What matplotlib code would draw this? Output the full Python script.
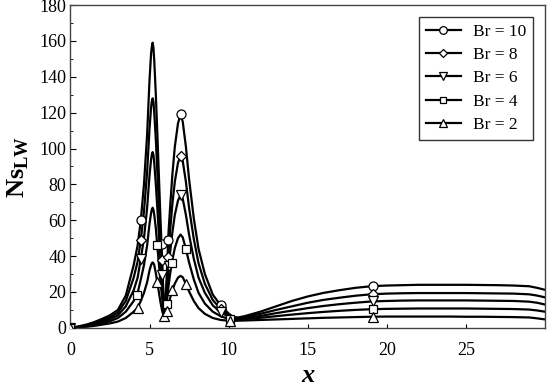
import numpy as np
import matplotlib
matplotlib.use('Agg')
import matplotlib.pyplot as plt

plt.rcParams['font.family'] = 'Liberation Serif'
plt.rcParams['mathtext.fontset'] = 'custom'
plt.rcParams['mathtext.rm'] = 'Liberation Serif'
plt.rcParams['mathtext.bf'] = 'Liberation Serif:bold'

# shared x grid
x = [0, 0.5, 1, 1.5, 2, 2.5, 3, 3.5, 4, 4.25, 4.45, 4.65, 4.85, 5.0, 5.1, 5.15, 5.2, 5.25, 5.3,
     5.4, 5.5, 5.6, 5.7, 5.8, 5.88, 5.95, 6.02, 6.1, 6.2, 6.3, 6.45, 6.6, 6.8, 6.96,
     7.1, 7.3, 7.5, 7.8, 8.1, 8.5, 9.0, 9.5, 10.0, 10.3, 10.6, 11, 12, 13, 14, 15,
     16, 17, 18, 19, 20, 21, 22, 23, 24, 25, 26, 27, 28, 29, 29.5, 30]

br10 = [0, 0.8, 1.8, 3.2, 5, 7, 10, 18, 35, 46, 60, 80, 108, 138, 153, 157, 159, 156, 149,
        130, 107, 83, 59, 38, 19, 7, 16, 31, 53, 67, 86, 101, 114, 119,
        115, 101, 83, 61, 44, 30, 18.5, 12.5, 8, 6, 5.8, 6.5, 9, 12, 15, 17.5,
        19.5, 21, 22.3, 23.2, 23.6, 23.8, 24, 24, 24, 24, 23.9, 23.8, 23.6, 23.2, 22.3, 21.2]
br8 = [0, 0.6, 1.5, 2.7, 4.2, 5.8, 8.5, 15, 28, 37, 49, 65, 87, 111, 123, 126.5, 128, 126, 120,
       105, 86, 67, 48, 31, 16, 6.5, 13.5, 25.5, 43, 54, 69.5, 81.5, 92, 96,
       93, 81.5, 67, 49.5, 36, 24.5, 15.5, 10.5, 7, 5.6, 5.4, 6, 7.8, 10, 12, 14,
       15.6, 16.8, 17.9, 18.7, 19.1, 19.3, 19.4, 19.4, 19.4, 19.4, 19.3, 19.2, 19.1, 18.7, 18, 17]
br6 = [0, 0.5, 1.2, 2.2, 3.4, 4.8, 7, 12, 21, 28, 38.5, 50, 67, 85, 94, 96.8, 98, 96.3, 92,
       80, 66, 51, 37, 24, 12.5, 6.2, 11, 20, 32.5, 42, 53.5, 63, 71, 74,
       72, 63, 52, 38.5, 28, 19.5, 12.5, 8.8, 6.2, 5.2, 5.0, 5.4, 6.6, 8.2, 9.6, 11,
       12.2, 13.2, 14, 14.7, 15, 15.2, 15.3, 15.3, 15.3, 15.3, 15.2, 15.1, 15, 14.6, 14, 13]
br4 = [0, 0.4, 0.9, 1.6, 2.6, 3.7, 5.5, 9, 15, 19.5, 27, 35, 46, 58, 64, 66.2, 67, 65.8, 63,
       55.5, 45, 35, 25, 16.5, 9.5, 6, 8.5, 15, 23, 30, 38, 44.5, 50, 52,
       50.5, 44, 36.5, 27, 19.5, 13.5, 9, 6.5, 5, 4.6, 4.6, 4.9, 5.6, 6.5, 7.4, 8.2,
       8.9, 9.5, 10, 10.4, 10.6, 10.7, 10.8, 10.8, 10.8, 10.8, 10.7, 10.6, 10.5, 10.2, 9.7, 9]
br2 = [0, 0.3, 0.6, 1.1, 1.8, 2.5, 3.5, 5.5, 9, 11.2, 15, 19.5, 25.5, 32, 35, 36, 36.5, 36, 35,
       30.5, 25, 19.5, 14, 9.5, 7, 6, 6.8, 8.5, 13, 16.5, 21, 24.7, 28, 29,
       28.2, 24.5, 20.3, 15, 11, 7.8, 5.5, 4.4, 4, 3.9, 4, 4.1, 4.4, 4.7, 5, 5.3,
       5.6, 5.8, 6, 6.2, 6.3, 6.3, 6.3, 6.3, 6.3, 6.2, 6.2, 6.1, 6, 5.8, 5.3, 4.7]

# marker positions (sparse symbols on each curve)
mk10_x = [0, 4.45, 5.76, 6.18, 6.96, 9.5, 19.1]
mk10_y = [0, 60, 47, 49, 119, 12.5, 23.2]
mk8_x = [0, 4.45, 5.76, 6.18, 6.96, 9.5, 19.1]
mk8_y = [0, 49, 38, 39.6, 96, 10.5, 18.7]
mk6_x = [0, 4.45, 5.76, 6.22, 6.96, 9.55, 19.1]
mk6_y = [0, 38.5, 29.2, 34.4, 74, 8.6, 14.7]
mk4_x = [0, 4.2, 5.49, 6.08, 6.41, 7.3, 10.1, 19.1]
mk4_y = [0, 18.5, 46, 13.4, 36, 44, 4.9, 10.4]
mk2_x = [0, 4.25, 5.49, 5.91, 6.12, 6.45, 7.3, 10.1, 19.1]
mk2_y = [0, 11.2, 25.5, 6.7, 9.4, 21, 24.5, 4, 6.2]

labels = ['Br = 10', 'Br = 8', 'Br = 6', 'Br = 4', 'Br = 2']
series = [br10, br8, br6, br4, br2]
markers = [(mk10_x, mk10_y), (mk8_x, mk8_y), (mk6_x, mk6_y), (mk4_x, mk4_y), (mk2_x, mk2_y)]
symbols = ['o', 'D', 'v', 's', '^']
sizes = [6.5, 5, 6.5, 6, 6.5]

fig = plt.figure(figsize=(5.5, 3.88), dpi=100)
ax = fig.add_axes([0.128, 0.155, 0.863, 0.832])

for y, (mx, my), sym, ms, lab in zip(series, markers, symbols, sizes, labels):
    ax.plot(x, y, color='black', lw=1.6, zorder=2)
    ax.plot(mx, my, ls='none', marker=sym, ms=ms, mfc='white', mec='black',
            mew=0.9, zorder=3)
    # legend proxy
    ax.plot([], [], color='black', lw=1.6, marker=sym, ms=ms - 1, mfc='white',
            mec='black', mew=0.9, label=lab)

ax.set_xlim(0, 30)
ax.set_ylim(0, 180)
ax.set_xticks([0, 5, 10, 15, 20, 25])
ax.set_yticks(np.arange(0, 181, 20))
ax.set_yticks(np.arange(0, 181, 10), minor=True)
ax.tick_params(axis='both', which='both', direction='in', labelsize=13)
ax.tick_params(axis='y', which='major', length=4, pad=3)
ax.tick_params(axis='y', which='minor', length=2)
ax.tick_params(axis='x', which='major', length=3, pad=10)

for s in ax.spines.values():
    s.set_color('#444444')
    s.set_linewidth(1.0)

ax.set_xlabel('x', fontsize=19, fontweight='bold', fontstyle='italic', labelpad=4)
ax.set_ylabel(r'$\mathbf{Ns}_{\mathbf{LW}}$', fontsize=19, labelpad=6)

leg = ax.legend(loc='upper right', fontsize=12.5, frameon=True, fancybox=False,
                edgecolor='black', handlelength=2.0, borderpad=0.4,
                labelspacing=0.4, borderaxespad=0.7, handletextpad=0.7)
leg.get_frame().set_linewidth(1.0)

fig.savefig('out.png', dpi=100)
